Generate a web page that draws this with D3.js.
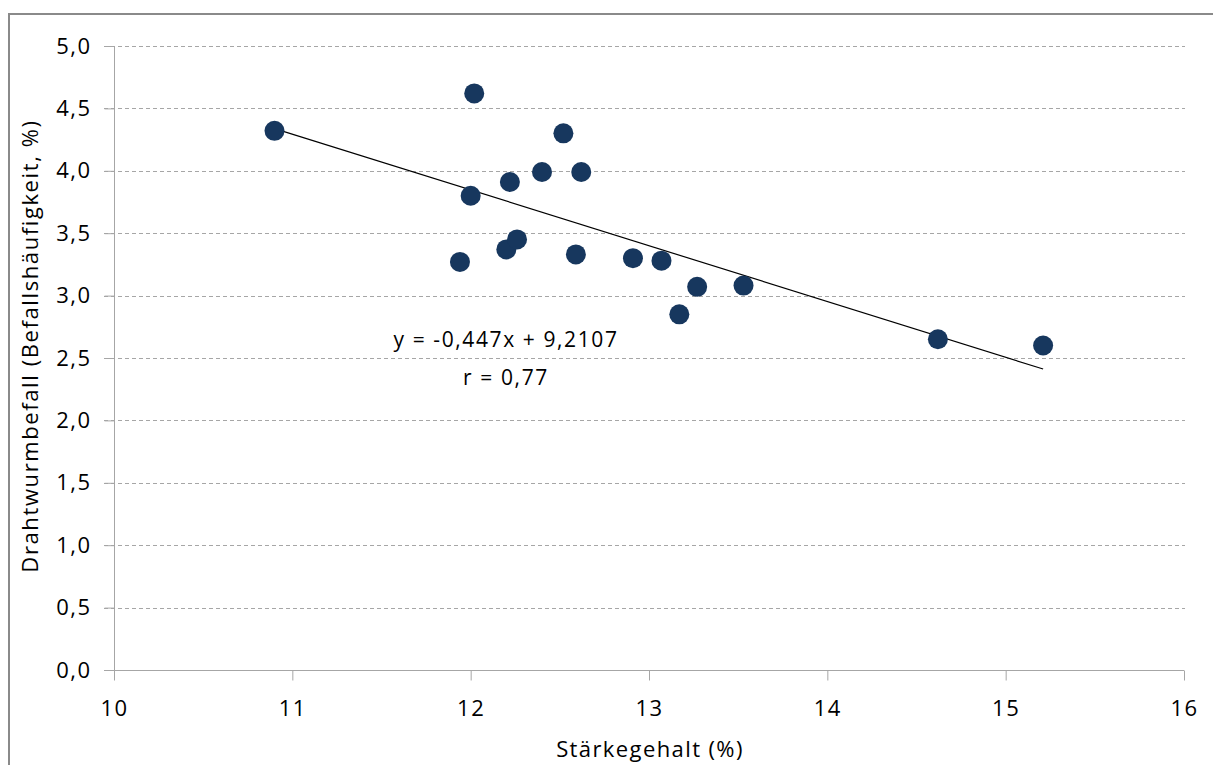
<!DOCTYPE html>
<html>
<head>
<meta charset="utf-8">
<script src="https://cdn.jsdelivr.net/npm/d3@7"></script>
<style>
  html, body { margin: 0; padding: 0; background: #fff; }
  svg { display: block; }
  text { font-family: "Open Sans", "Lato", sans-serif; fill: #000; }
</style>
</head>
<body>
<svg id="chart" width="1213" height="765"></svg>
<script>
// Data
const starch = [10.90, 12.02, 12.52, 12.40, 12.62, 12.22, 12.00, 11.94, 12.20, 12.26, 12.59, 12.91, 13.07, 13.27, 13.17, 13.53, 14.62, 15.21];
const infestation = [4.32, 4.62, 4.30, 3.99, 3.99, 3.91, 3.80, 3.27, 3.37, 3.45, 3.33, 3.30, 3.28, 3.07, 2.85, 3.08, 2.65, 2.60];
const xTicks = [10, 11, 12, 13, 14, 15, 16];
const yTicks = [0, 0.5, 1, 1.5, 2, 2.5, 3, 3.5, 4, 4.5, 5];
const slope = -0.447, intercept = 9.2107, r = 0.77;
const xTitle = "Stärkegehalt (%)";
const yTitle = "Drahtwurmbefall (Befallshäufigkeit, %)";

const svg = d3.select("#chart");
const fmt = v => d3.format(".1f")(v).replace(".", ",");
const fmtNum = v => String(v).replace(".", ",");

const x = d3.scaleLinear().domain([10, 16]).range([114, 1184]);
const y = d3.scaleLinear().domain([0, 5]).range([670, 46]);

// Outer frame
svg.append("path")
  .attr("d", "M9,765 V14 H1213")
  .attr("fill", "none").attr("stroke", "#8a8a8a").attr("stroke-width", 2);

// Gridlines
svg.append("g").selectAll("line").data(yTicks.filter(d => d > 0)).join("line")
  .attr("x1", 104).attr("x2", 1185)
  .attr("y1", d => Math.round(y(d)) + 0.5).attr("y2", d => Math.round(y(d)) + 0.5)
  .attr("stroke", "#a6a6a6").attr("stroke-width", 1).attr("stroke-dasharray", "4,3");

// Y axis
const yAxis = d3.axisLeft(y).tickValues(yTicks).tickFormat(fmt).tickSize(10).tickPadding(13);
const gy = svg.append("g").attr("transform", "translate(114.5,0)").call(yAxis);
gy.select(".domain").attr("d", `M0,${y(5)}V${y(0) + 10}`).attr("stroke", "#a6a6a6");
gy.selectAll(".tick line").attr("stroke", "#a6a6a6");
gy.selectAll(".tick text").style("font-size", "22px").style("letter-spacing", "1.5px").attr("font-family", null);

// X axis
const xAxis = d3.axisBottom(x).tickValues(xTicks).tickFormat(d => d).tickSize(10).tickPadding(20);
const gx = svg.append("g").attr("transform", "translate(0,670.5)").call(xAxis);
gx.select(".domain").attr("d", `M${x(10) - 10},0H${x(16)}`).attr("stroke", "#a6a6a6");
gx.selectAll(".tick line").attr("stroke", "#a6a6a6");
gx.selectAll(".tick text").style("font-size", "22px").style("letter-spacing", "1.5px").attr("font-family", null);

// Trendline
const xMin = d3.min(starch), xMax = d3.max(starch);
svg.append("line")
  .attr("x1", x(xMin)).attr("y1", y(slope * xMin + intercept))
  .attr("x2", x(xMax)).attr("y2", y(slope * xMax + intercept))
  .attr("stroke", "#000").attr("stroke-width", 1.2);

// Points
svg.append("g").selectAll("circle").data(starch.map((s, i) => [s, infestation[i]])).join("circle")
  .attr("cx", d => x(d[0])).attr("cy", d => y(d[1])).attr("r", 10)
  .attr("fill", "#17375e");

// Equation label
svg.append("text").attr("x", 506).attr("y", 347).attr("text-anchor", "middle")
  .style("font-size", "21px").style("letter-spacing", "1.6px")
  .text(`y = ${fmtNum(slope)}x + ${fmtNum(intercept)}`);
svg.append("text").attr("x", 506).attr("y", 385).attr("text-anchor", "middle")
  .style("font-size", "21px").style("letter-spacing", "1.6px")
  .text(`r = ${fmtNum(r)}`);

// Axis titles
svg.append("text").attr("x", 650).attr("y", 757).attr("text-anchor", "middle")
  .style("font-size", "22px").style("letter-spacing", "1.4px").text(xTitle);
svg.append("text").attr("transform", "translate(38,346) rotate(-90)").attr("text-anchor", "middle")
  .style("font-size", "22px").style("letter-spacing", "1.6px").text(yTitle);
</script>
</body>
</html>
